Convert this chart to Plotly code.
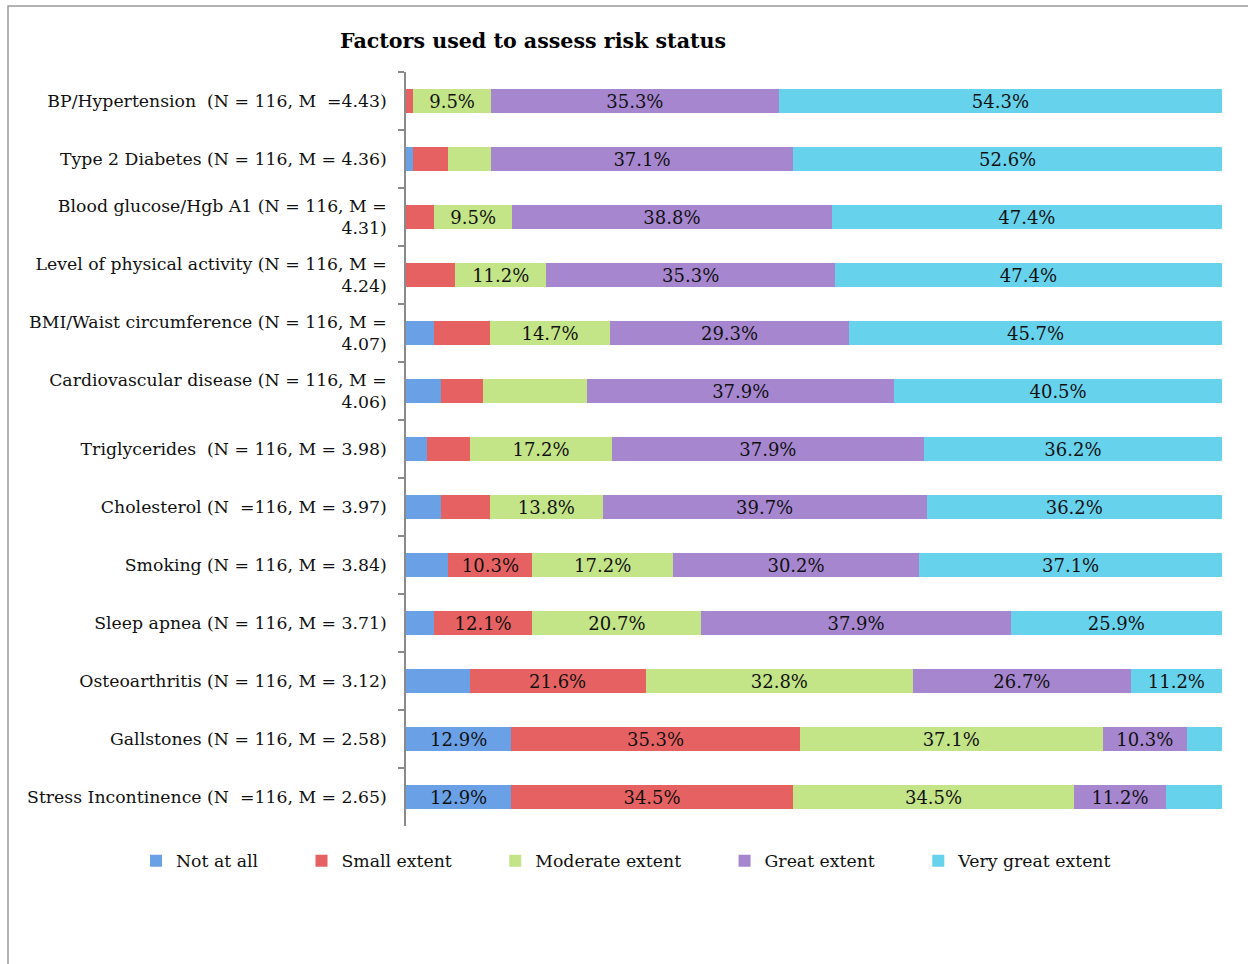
import plotly.graph_objects as go

categories = [
    "BP/Hypertension  (N = 116, M  =4.43)",
    "Type 2 Diabetes (N = 116, M = 4.36)",
    "Blood glucose/Hgb A1 (N = 116, M =<br>4.31)",
    "Level of physical activity (N = 116, M =<br>4.24)",
    "BMI/Waist circumference (N = 116, M =<br>4.07)",
    "Cardiovascular disease (N = 116, M =<br>4.06)",
    "Triglycerides  (N = 116, M = 3.98)",
    "Cholesterol (N  =116, M = 3.97)",
    "Smoking (N = 116, M = 3.84)",
    "Sleep apnea (N = 116, M = 3.71)",
    "Osteoarthritis (N = 116, M = 3.12)",
    "Gallstones (N = 116, M = 2.58)",
    "Stress Incontinence (N  =116, M = 2.65)",
]

series_names = ["Not at all", "Small extent", "Moderate extent", "Great extent", "Very great extent"]

not_at_all   = [0.0, 0.9, 0.0, 0.0, 3.4, 4.3, 2.6, 4.3, 5.2, 3.4, 7.8, 12.9, 12.9]
small_extent = [0.9, 4.3, 3.4, 6.0, 6.9, 5.2, 5.2, 6.0, 10.3, 12.1, 21.6, 35.3, 34.5]
moderate     = [9.5, 5.2, 9.5, 11.2, 14.7, 12.9, 17.2, 13.8, 17.2, 20.7, 32.8, 37.1, 34.5]
great        = [35.3, 37.1, 38.8, 35.3, 29.3, 37.9, 37.9, 39.7, 30.2, 37.9, 26.7, 10.3, 11.2]
very_great   = [54.3, 52.6, 47.4, 47.4, 45.7, 40.5, 36.2, 36.2, 37.1, 25.9, 11.2, 4.3, 6.9]

# rows (indices) whose value label is printed on the bar, per series
labelled_rows = [
    [11, 12],
    [8, 9, 10, 11, 12],
    [0, 2, 3, 4, 6, 7, 8, 9, 10, 11, 12],
    list(range(13)),
    list(range(11)),
]

colors = ["#6aa0e6", "#e66262", "#c3e487", "#a586cf", "#66d2ec"]

all_values = [not_at_all, small_extent, moderate, great, very_great]

W, H = 1248, 964
ML, MR, MT, MB = 406, 26, 72, 138
PW, PH = W - ML - MR, H - MT - MB

FONT = "DejaVu Serif"
LABEL_SIZE = 17.3

fig = go.Figure()
pad = "\u00a0" * 7
for name, vals, rows, col in zip(series_names, all_values, labelled_rows, colors):
    txt = [f"{v:.1f}%" if i in rows else "" for i, v in enumerate(vals)]
    fig.add_trace(go.Bar(
        y=categories, x=vals, name=name + pad, orientation="h",
        marker=dict(color=col, line=dict(width=0)),
        text=txt, textposition="inside", insidetextanchor="middle",
        textangle=0, constraintext="none",
        textfont=dict(family=FONT, size=18, color="#111111"),
        hoverinfo="x+y",
    ))

fig.update_layout(
    width=W, height=H,
    margin=dict(l=ML, r=MR, t=MT, b=MB, autoexpand=False),
    barmode="stack", barnorm="percent", bargap=0.59,
    paper_bgcolor="white", plot_bgcolor="white",
    font=dict(family=FONT, size=LABEL_SIZE, color="#111111"),
    title=dict(text="<b>Factors used to assess risk status</b>",
               font=dict(family=FONT, size=20.6, color="#000000"),
               x=533 / W, xref="container", xanchor="center",
               y=1 - 41 / H, yref="container", yanchor="middle"),
    xaxis=dict(visible=False, range=[0, 100], fixedrange=True),
    yaxis=dict(autorange="reversed", type="category",
               showline=True, linecolor="#8a8a8a", linewidth=1.5,
               ticks="outside", tickson="boundaries", ticklen=6,
               tickcolor="#8a8a8a", tickwidth=1.5,
               ticklabelstandoff=14,
               tickfont=dict(family=FONT, size=LABEL_SIZE, color="#111111"),
               showgrid=False, zeroline=False),
    legend=dict(orientation="h", xref="paper", yref="paper",
                x=(136 - ML) / PW, xanchor="left",
                y=-(843 - (H - MB)) / PH, yanchor="top",
                font=dict(family=FONT, size=LABEL_SIZE, color="#111111"),
                traceorder="normal", itemclick=False),
    shapes=[dict(type="rect", xref="paper", yref="paper",
                 x0=(8 - ML) / PW, x1=(W + 20 - ML) / PW,
                 y0=(H - MB - (H + 20)) / PH, y1=(H - MB - 6) / PH,
                 line=dict(color="#9a9a9a", width=1.5), layer="below")],
)

fig.write_html("out.html")
